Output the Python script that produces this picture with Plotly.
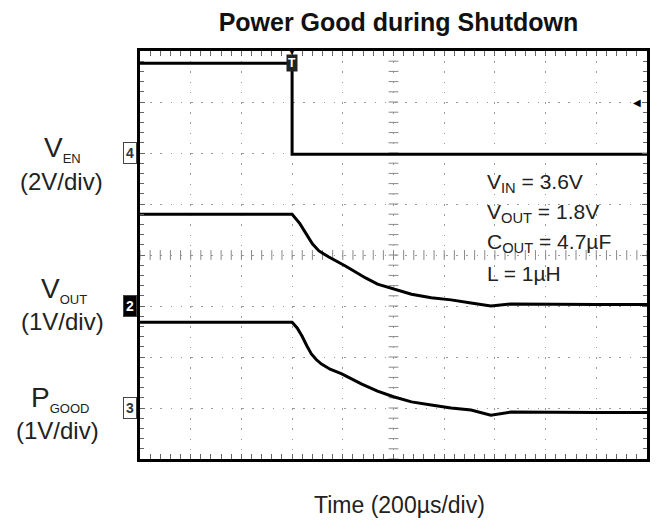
import numpy as np
import plotly.graph_objects as go

# ---- data (time in µs, trigger at 0; voltages in V) ----
t_en = [-600, 0, 0, 1400]
v_en = [3.52, 3.52, -0.05, -0.05]

t_out = [-600, 0, 30, 55, 80, 106, 145, 212, 290, 337, 400, 471, 549, 627, 706, 784, 863, 1000, 1200, 1400]
v_out = [1.80, 1.80, 1.62, 1.41, 1.22, 1.08, 0.96, 0.78, 0.55, 0.43, 0.33, 0.23, 0.16, 0.12, 0.06, 0.00, 0.04, 0.03, 0.03, 0.03]

t_pg = [-600, 0, 20, 39, 58, 76, 95, 116, 150, 196, 275, 337, 400, 471, 549, 627, 706, 784, 863, 1000, 1200, 1400]
v_pg = [1.68, 1.68, 1.57, 1.41, 1.22, 1.06, 0.95, 0.86, 0.76, 0.67, 0.47, 0.33, 0.22, 0.12, 0.06, 0.00, -0.04, -0.14, -0.08, -0.09, -0.09, -0.09]

title_text = "Power Good during Shutdown"
xlabel = "Time (200µs/div)"
cond_lines = ["V<sub>IN</sub> = 3.6V", "V<sub>OUT</sub> = 1.8V", "C<sub>OUT</sub> = 4.7µF", "L = 1µH"]
chan_labels = [("V", "EN", "(2V/div)"), ("V", "OUT", "(1V/div)"), ("P", "GOOD", "(1V/div)")]

# page has an 8px body margin; figure sized so it fills the 660x527 window
OFF = 8
L, R, T, B = 132, 10, 43, 68
W, H = 652, 519
PW, PH = W - L - R, H - T - B
def px(x): return (x - OFF - L) / PW
def py(y): return (H - B - (y - OFF)) / PH

fig = go.Figure()

# centre graticule ticks
cy = np.arange(-12, 4.001, 0.4)
fig.add_trace(go.Scatter(x=[400] * len(cy), y=cy, mode="markers", hoverinfo="skip",
                         marker=dict(symbol="line-ew", size=7, line=dict(width=1, color="#888")),
                         showlegend=False, cliponaxis=False))
cx = np.arange(-600, 1400.001, 40)
fig.add_trace(go.Scatter(x=cx, y=[-4] * len(cx), mode="markers", hoverinfo="skip",
                         marker=dict(symbol="line-ns", size=7, line=dict(width=1, color="#888")),
                         showlegend=False, cliponaxis=False))

line = dict(color="black", width=3)
fig.add_trace(go.Scatter(x=t_en, y=v_en, mode="lines", line=line, yaxis="y", showlegend=False))
fig.add_trace(go.Scatter(x=t_out, y=v_out, mode="lines", line=line, yaxis="y2", showlegend=False))
fig.add_trace(go.Scatter(x=t_pg, y=v_pg, mode="lines", line=line, yaxis="y3", showlegend=False))

grid = dict(showgrid=True, gridcolor="#9a9a9a", gridwidth=1.2, griddash="1.5px,8.7px",
            showline=True, linecolor="black", linewidth=3, mirror="allticks",
            ticks="inside", ticklen=5, tickcolor="#666", tickwidth=1,
            showticklabels=False, zeroline=False, fixedrange=True)
minor = dict(ticks="inside", ticklen=4, tickcolor="#666", showgrid=False)

fig.update_layout(
    width=W, height=H, margin=dict(l=L, r=R, t=T, b=B),
    paper_bgcolor="white", plot_bgcolor="white",
    font=dict(family="Liberation Sans, Arial, sans-serif", color="#222"),
    title=dict(text="<b>" + title_text + "</b>", x=px(400), xref="paper", xanchor="center",
               y=1 - (22 - OFF) / H, yanchor="middle", font=dict(size=25, color="#111")),
    xaxis=dict(range=[-600, 1400], dtick=200, tick0=0, minor=dict(minor, dtick=40), **grid),
    yaxis=dict(range=[-12, 4], dtick=2, tick0=0, minor=dict(minor, dtick=0.4), **grid),
    yaxis2=dict(range=[-3, 5], overlaying="y", visible=False, fixedrange=True),
    yaxis3=dict(range=[-1, 7], overlaying="y", visible=False, fixedrange=True),
)

ann = []
# left labels
name_pos = [(62, 149), (64, 290), (60, 399)]
div_pos = [(61, 181), (62, 321), (57, 430)]
for (big, sub, div), (nx, ny), (dx, dy) in zip(chan_labels, name_pos, div_pos):
    ann.append(dict(text=big + "<sub><span style='font-size:13px'>" + sub + "</span></sub>",
                    x=px(nx), y=py(ny), font=dict(size=28)))
    ann.append(dict(text=div, x=px(dx), y=py(dy), font=dict(size=24)))
for a in ann:
    a.update(xref="paper", yref="paper", showarrow=False, xanchor="center", yanchor="middle")

# channel ground markers
for ch, yref, filled in [("4", "y", False), ("2", "y2", True), ("3", "y3", False)]:
    ann.append(dict(text="<b>" + ch + "</b>", xref="paper", yref=yref, x=-0.006, y=0,
                    xanchor="right", yanchor="middle", showarrow=False,
                    font=dict(size=14, color="white" if filled else "#333"),
                    bgcolor="black" if filled else "white", bordercolor="#444",
                    borderwidth=1, borderpad=2))

# trigger markers
ann.append(dict(text="<b>T</b>", xref="x", yref="y", x=0, y=3.52, showarrow=False,
                xanchor="center", yanchor="middle", font=dict(size=12, color="white"),
                bgcolor="#222", borderpad=1))
ann.append(dict(text="▼", xref="x", yref="paper", x=0, y=1, showarrow=False,
                xanchor="center", yanchor="middle", font=dict(size=12, color="black")))
ann.append(dict(text="◀", xref="paper", yref="y", x=0.992, y=2, showarrow=False,
                xanchor="right", yanchor="middle", font=dict(size=10, color="black")))

# conditions
for i, s in enumerate(cond_lines):
    ann.append(dict(text=s, xref="paper", yref="paper", x=px(487), y=py(183 + 30 * i),
                    xanchor="left", yanchor="middle", showarrow=False, font=dict(size=21)))

# x label
ann.append(dict(text=xlabel, xref="paper", yref="paper", x=px(401), y=py(505),
                xanchor="center", yanchor="middle", showarrow=False, font=dict(size=23)))

fig.update_layout(annotations=ann)
fig.write_html("out.html")
